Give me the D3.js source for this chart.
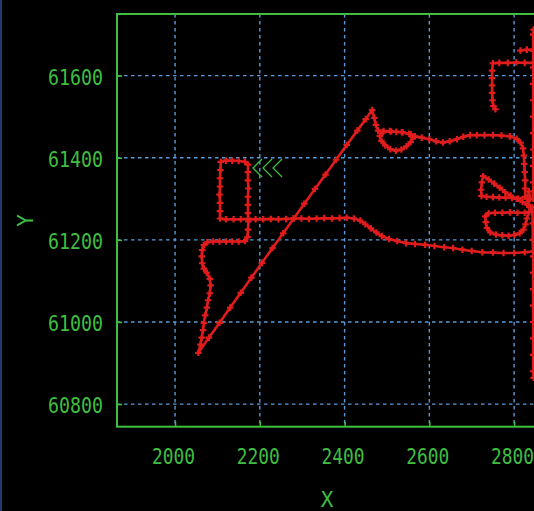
<!DOCTYPE html>
<html>
<head>
<meta charset="utf-8">
<script src="https://cdn.jsdelivr.net/npm/d3@7"></script>
<style>
  html, body { margin: 0; padding: 0; background: #000; overflow: hidden; }
  svg { display: block; }
</style>
</head>
<body>
<svg id="chart" width="534" height="511"></svg>
<script>
// ---------- data ----------
const xTicks = [2000, 2200, 2400, 2600, 2800];
const yTicks = [60800, 61000, 61200, 61400, 61600];
const xLabel = "X";
const yLabel = "Y";
const startMarker = [2217, 61375];

const trackX = [
  2875, 2847, 2825, 2800, 2775, 2750, 2725, 2700, 2678, 2656, 2635, 2612, 2590, 2566, 2545, 2524, 2505, 2488, 2475, 2462, 2449, 2437, 2422, 2405, 2388, 2370, 2352, 2334, 2316, 2298, 2280, 2262, 2244, 2226, 2208, 2190, 2172, 2155, 2138, 2120, 2106,
  2106, 2106, 2105, 2106, 2106, 2107, 2108,
  2120, 2135, 2150, 2165, 2172,
  2172, 2172, 2173, 2172, 2172, 2172, 2173, 2172, 2171, 2165,
  2150, 2135, 2120, 2105, 2090, 2076, 2068,
  2064, 2063, 2064, 2068, 2075, 2082, 2084, 2082, 2078, 2075, 2071, 2068, 2066, 2063, 2060, 2055,
  2080, 2105, 2130, 2155, 2180, 2205, 2230, 2255, 2280, 2305, 2330, 2355, 2380, 2405, 2430, 2450, 2465,
  2470, 2474, 2479,
  2492, 2507, 2522, 2537, 2552, 2561, 2556, 2546, 2534, 2521, 2508, 2496, 2487, 2483, 2490, 2510, 2535, 2556, 2566,
  2582, 2600, 2616, 2632, 2648, 2665, 2680, 2696, 2712, 2730, 2750, 2770, 2790, 2806, 2815, 2821,
  2823, 2824, 2825, 2826, 2826, 2826,
  2810, 2795, 2780, 2765, 2750, 2735, 2723,
  2722, 2724, 2727,
  2740, 2753, 2766, 2779, 2792, 2806, 2820,
  2832, 2838, 2835, 2830, 2836, 2842,
  2825, 2808, 2790, 2772, 2755, 2740, 2732,
  2733, 2736, 2744, 2757, 2772, 2787, 2801, 2813, 2822, 2827, 2830, 2835, 2843,
  2844, 2844, 2845, 2845, 2845, 2845, 2845, 2845, 2845, 2845, 2846,
  2875, 2875,
  2845, 2845, 2845, 2845, 2845, 2845, 2845, 2845, 2845, 2845, 2845, 2846,
  2875, 2875, 2845, 2830, 2815, 2830, 2845, 2875, 2875,
  2845, 2825, 2805, 2785, 2765, 2750, 2748, 2748, 2748, 2748, 2749, 2751, 2756
];
const trackY = [
  61172, 61172, 61170, 61168, 61168, 61169, 61170, 61173, 61176, 61180, 61182, 61185, 61188, 61190, 61192, 61197, 61202, 61209, 61218, 61228, 61238, 61247, 61252, 61254, 61253, 61252, 61253, 61252, 61251, 61252, 61252, 61251, 61250, 61251, 61250, 61250, 61251, 61250, 61250, 61250, 61252,
  61270, 61290, 61310, 61330, 61350, 61370, 61390,
  61393, 61393, 61392, 61390, 61383,
  61365, 61345, 61325, 61305, 61285, 61265, 61245, 61225, 61207, 61197,
  61196, 61196, 61196, 61196, 61196, 61194, 61187,
  61175, 61160, 61143, 61130, 61120, 61105, 61089, 61070, 61053, 61035, 61016, 60998, 60980, 60962, 60945, 60925,
  60962, 60998, 61035, 61071, 61108, 61144, 61180, 61216, 61252, 61288, 61324, 61359, 61395, 61431, 61466, 61494, 61516,
  61497, 61480, 61466,
  61465, 61465, 61463, 61462, 61458, 61450, 61438, 61428, 61420, 61417, 61421, 61430, 61441, 61453, 61462, 61464, 61462, 61457, 61452,
  61449, 61445, 61440, 61437, 61440, 61445, 61451, 61455, 61455, 61455, 61455, 61454, 61452, 61446, 61437, 61423,
  61405, 61385, 61365, 61345, 61325, 61305,
  61300, 61302, 61303, 61303, 61304, 61305, 61307,
  61322, 61340, 61355,
  61347, 61337, 61327, 61316, 61308, 61300, 61292,
  61285, 61300, 61318, 61300, 61280, 61268,
  61266, 61266, 61267, 61266, 61266, 61265, 61257,
  61243, 61229, 61218, 61213, 61211, 61210, 61212, 61216, 61225, 61238, 61252, 61268, 61280,
  61240, 61200, 61160, 61120, 61080, 61040, 61000, 60960, 60920, 60880, 60864,
  60864, 61300,
  61300, 61340, 61380, 61420, 61460, 61500, 61540, 61580, 61620, 61660, 61700, 61712,
  61712, 61663, 61663, 61663, 61661, 61663, 61663, 61663, 61631,
  61631, 61631, 61632, 61631, 61631, 61630, 61612, 61594, 61576, 61558, 61540, 61526, 61518
];

// ---------- layout ----------
const W = 534, H = 511;
const plot = { left: 117, top: 14, right: 537, bottom: 426.7 };
const GREEN = "#3fbf3f";
const GRID = "#5b9ad8";
const RED = "#e01c1c";

const x = d3.scaleLinear().domain([1863, 2854]).range([plot.left, plot.right]);
const y = d3.scaleLinear().domain([60745, 61750]).range([plot.bottom, plot.top]);

const svg = d3.select("#chart");
svg.append("rect").attr("width", W).attr("height", H).attr("fill", "#000");
svg.append("rect").attr("x", 0).attr("y", 0).attr("width", 2).attr("height", H).attr("fill", "#1d3d6e");

const pw = plot.right - plot.left, ph = plot.bottom - plot.top;

// grid
const grid = svg.append("g");
grid.selectAll("line.v").data(xTicks).join("line")
  .attr("x1", d => x(d)).attr("x2", d => x(d))
  .attr("y1", plot.top).attr("y2", plot.bottom)
  .attr("stroke", GRID).attr("stroke-width", 1.4).attr("stroke-dasharray", "3.5,3.5");
grid.selectAll("line.h").data(yTicks).join("line")
  .attr("y1", d => y(d)).attr("y2", d => y(d))
  .attr("x1", plot.left).attr("x2", plot.right)
  .attr("stroke", GRID).attr("stroke-width", 1.4).attr("stroke-dasharray", "3.5,3.5");

// track
const pts = trackX.map((v, i) => [v, trackY[i]]);
const line = d3.line().x(d => x(d[0])).y(d => y(d[1]));
svg.append("path").datum(pts).attr("d", line)
  .attr("fill", "none").attr("stroke", RED).attr("stroke-width", 2.6)
  .attr("stroke-linejoin", "round");
const sym = d3.symbol().type(d3.symbolCross).size(24);
svg.append("g").selectAll("path").data(pts).join("path")
  .attr("transform", d => `translate(${x(d[0])},${y(d[1])})`)
  .attr("d", sym).attr("fill", RED);

// start marker chevrons
const mk = svg.append("g").attr("transform", `translate(${x(startMarker[0])},${y(startMarker[1])})`);
[-10, 0, 10].forEach(o => {
  mk.append("path").attr("d", `M${o + 5},-9 L${o - 4},0 L${o + 5},9`)
    .attr("fill", "none").attr("stroke", GREEN).attr("stroke-width", 1.3);
});

// axes
const fmt = d3.format("d");
const xAxis = d3.axisBottom(x).tickValues(xTicks).tickFormat(fmt).tickSizeInner(-5).tickSizeOuter(0).tickPadding(0);
const gx = svg.append("g").attr("transform", `translate(0,${plot.bottom})`).call(xAxis);
const yAxis = d3.axisLeft(y).tickValues(yTicks).tickFormat(fmt).tickSizeInner(-5).tickSizeOuter(0).tickPadding(14);
const gy = svg.append("g").attr("transform", `translate(${plot.left},0)`).call(yAxis);
[gx, gy].forEach(g => {
  g.select(".domain").remove();
  g.selectAll(".tick line").attr("stroke", GREEN).attr("stroke-width", 1.5);
  g.selectAll(".tick text").attr("fill", GREEN)
    .style("font-family", "'DejaVu Sans Mono', monospace").style("font-size", "21px")
    .attr("lengthAdjust", "spacingAndGlyphs");
});
gx.selectAll(".tick text").attr("y", 37).attr("dy", null).attr("x", -2).attr("textLength", 43);
gy.selectAll(".tick text").attr("dy", "0.4em").attr("textLength", 55);

// border
svg.append("rect").attr("x", plot.left).attr("y", plot.top).attr("width", pw).attr("height", ph)
  .attr("fill", "none").attr("stroke", GREEN).attr("stroke-width", 2);

// axis labels
svg.append("text").attr("x", (plot.left + plot.right) / 2).attr("y", 507)
  .attr("text-anchor", "middle").attr("fill", GREEN)
  .style("font-family", "'DejaVu Sans Mono', monospace").style("font-size", "21px")
  .text(xLabel);
svg.append("text").attr("transform", `translate(33,${(plot.top + plot.bottom) / 2}) rotate(-90)`)
  .attr("text-anchor", "middle").attr("fill", GREEN)
  .style("font-family", "'DejaVu Sans Mono', monospace").style("font-size", "21px")
  .text(yLabel);
</script>
</body>
</html>
